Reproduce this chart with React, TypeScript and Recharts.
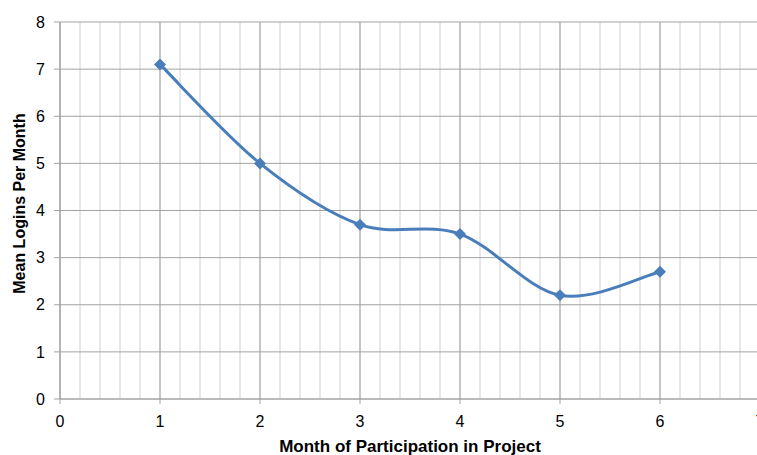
import { CartesianGrid, Line, LineChart, XAxis, YAxis } from "recharts";

// months and mean logins
const months = [1, 2, 3, 4, 5, 6];
const meanLogins = [7.1, 5.0, 3.7, 3.5, 2.2, 2.7];

const xTicks = [0, 1, 2, 3, 4, 5, 6, 7];
const yTicks = [0, 1, 2, 3, 4, 5, 6, 7, 8];

const data = months.map((m, i) => ({ month: m, logins: meanLogins[i] }));

// 5 minor divisions per month, like the original grid
const minorX: number[] = [];
for (let i = 0; i <= 35; i++) minorX.push(i / 5);

// Excel-style smoothed line (bezier with 1/6 neighbour tangents)
const smoothCurve = (context: any) => {
  let pts: [number, number][] = [];
  return {
    areaStart() {},
    areaEnd() {},
    lineStart() {
      pts = [];
    },
    lineEnd() {
      if (!pts.length) return;
      context.moveTo(pts[0][0], pts[0][1]);
      for (let i = 0; i < pts.length - 1; i++) {
        const p0 = pts[Math.max(i - 1, 0)];
        const p1 = pts[i];
        const p2 = pts[i + 1];
        const p3 = pts[Math.min(i + 2, pts.length - 1)];
        context.bezierCurveTo(
          p1[0] + (p2[0] - p0[0]) / 6,
          p1[1] + (p2[1] - p0[1]) / 6,
          p2[0] - (p3[0] - p1[0]) / 6,
          p2[1] - (p3[1] - p1[1]) / 6,
          p2[0],
          p2[1]
        );
      }
    },
    point(x: number, y: number) {
      pts.push([+x, +y]);
    },
  };
};

const Diamond = (props: any) => {
  const { cx, cy } = props;
  const r = 6;
  return (
    <polygon
      points={`${cx},${cy - r} ${cx + r},${cy} ${cx},${cy + r} ${cx - r},${cy}`}
      fill="#4a7ebb"
    />
  );
};

const font = "'Liberation Sans', Arial, sans-serif";
const titleStyle = { fill: "#000", fontSize: 16, fontWeight: "bold" as const, fontFamily: font };

const YTitle = (props: any) => {
  const vb = props.viewBox || {};
  const cx = 19;
  const cy = vb.y + vb.height / 2 - 7;
  return (
    <text
      x={cx}
      y={cy}
      transform={`rotate(-90, ${cx}, ${cy})`}
      textAnchor="middle"
      dominantBaseline="central"
      style={titleStyle}
    >
      Mean Logins Per Month
    </text>
  );
};

function App() {
  return (
    <div
      style={{
        position: "absolute",
        left: 0,
        top: 0,
        width: 757,
        height: 455,
        overflow: "hidden",
        background: "#fff",
        fontFamily: font,
      }}
    >
      <LineChart
        width={780}
        height={455}
        data={data}
        margin={{ top: 22, right: 20, bottom: 0, left: 0 }}
      >
        <CartesianGrid
          vertical
          horizontal={false}
          verticalValues={minorX}
          stroke="#d2d2d2"
          strokeWidth={1}
        />
        <CartesianGrid vertical horizontal stroke="#a3a3a3" strokeWidth={1} />
        <XAxis
          dataKey="month"
          type="number"
          domain={[0, 7]}
          ticks={xTicks}
          interval={0}
          height={56}
          stroke="#a3a3a3"
          tickSize={5}
          tickMargin={12}
          tick={{ fill: "#000", fontSize: 16, fontFamily: font }}
          label={{
            value: "Month of Participation in Project",
            position: "insideBottom",
            offset: 3,
            style: { ...titleStyle, fontSize: 17 },
          }}
        />
        <YAxis
          type="number"
          domain={[0, 8]}
          ticks={yTicks}
          interval={0}
          width={60}
          stroke="#a3a3a3"
          tickSize={6}
          tickMargin={9}
          tick={{ fill: "#000", fontSize: 16, fontFamily: font }}
          label={<YTitle />}
        />
        <Line
          dataKey="logins"
          type={smoothCurve as any}
          stroke="#4a7ebb"
          strokeWidth={3}
          dot={<Diamond />}
          activeDot={false}
          isAnimationActive={false}
        />
      </LineChart>
    </div>
  );
}

export default App;
